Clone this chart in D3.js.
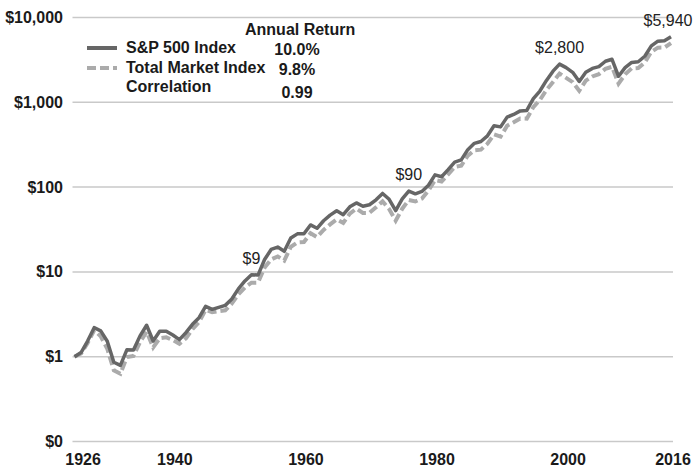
<!DOCTYPE html>
<html>
<head>
<meta charset="utf-8">
<script src="https://cdn.jsdelivr.net/npm/d3@7"></script>
<style>
  body { margin: 0; background: #fff; }
  svg { display: block; font-family: "Liberation Sans", Arial, sans-serif; }
</style>
</head>
<body>
<div id="chart"></div>
<script>
  // growth of $1, year-end values (first point = start of 1926)
  const years = d3.range(1925, 2017);
  const sp500 = [1.00,
    1.12, 1.53, 2.20, 2.02, 1.52, 0.86, 0.79, 1.21, 1.20, 1.76,
    2.35, 1.53, 2.00, 2.00, 1.80, 1.59, 1.92, 2.41, 2.88, 3.93,
    3.62, 3.82, 4.03, 4.79, 6.31, 7.82, 9.26, 9.17, 13.99, 18.40,
    19.61, 17.50, 25.09, 28.09, 28.22, 35.80, 32.68, 40.12, 46.73, 52.55,
    47.26, 58.59, 65.07, 59.53, 61.91, 70.77, 84.20, 71.85, 52.84, 72.49,
    89.80, 83.35, 88.82, 105.2, 139.3, 132.5, 160.8, 196.9, 209.3, 276.4,
    328.0, 345.1, 402.4, 529.4, 513.0, 668.8, 719.6, 792.1, 802.6, 1104,
    1358, 1811, 2328, 2818, 2562, 2257, 1758, 2263, 2509, 2632,
    3047, 3215, 2025, 2561, 2947, 3009, 3491, 4622, 5254, 5327,
    5940];
  const totalMarket = [1.00,
    1.09, 1.45, 2.05, 1.74, 1.24, 0.69, 0.63, 0.99, 1.02, 1.49,
    1.97, 1.29, 1.65, 1.69, 1.57, 1.42, 1.65, 2.11, 2.56, 3.56,
    3.34, 3.45, 3.52, 4.23, 5.45, 6.56, 7.45, 7.48, 11.24, 14.05,
    15.23, 13.61, 19.71, 22.23, 22.50, 28.57, 25.75, 31.23, 36.32, 41.55,
    37.85, 48.68, 55.64, 49.63, 49.68, 57.68, 67.72, 55.12, 40.13, 55.62,
    70.47, 67.72, 73.34, 91.01, 121.2, 116.5, 141.3, 173.2, 178.8, 235.1,
    271.8, 276.7, 325.1, 418.1, 393.0, 529.4, 581.3, 645.8, 641.9, 878.1,
    1065, 1399, 1736, 2182, 1944, 1730, 1367, 1800, 2016, 2145,
    2484, 2621, 1659, 2137, 2513, 2533, 2948, 3936, 4408, 4426,
    4984];

  const yTicks = [0.1, 1, 10, 100, 1000, 10000];
  const yTickLabels = ["$0", "$1", "$10", "$100", "$1,000", "$10,000"];
  const xTicks = [1926, 1940, 1960, 1980, 2000, 2016];

  const annotations = [
    { year: 1952, text: "$9", dx: 0 },
    { year: 1976, text: "$90", dx: 0 },
    { year: 1999, text: "$2,800", dx: 0 },
    { year: 2016, text: "$5,940", dx: -3 }
  ];

  const legendRows = [
    { name: "S&P 500 Index", value: "10.0%", style: "sp" },
    { name: "Total Market Index", value: "9.8%", style: "tm" },
    { name: "Correlation", value: "0.99", style: null }
  ];

  const width = 694, height = 467;
  const x = d3.scaleLinear().domain([1925, 2016]).range([74.5, 671]);
  const y = d3.scaleLog().domain([0.1, 10000]).range([441.5, 17.5]);

  const svg = d3.select("#chart").append("svg")
      .attr("width", width)
      .attr("height", height);

  // gridlines
  svg.append("g")
    .selectAll("line")
    .data(yTicks)
    .join("line")
      .attr("x1", 72.5)
      .attr("x2", 673)
      .attr("y1", d => y(d))
      .attr("y2", d => y(d))
      .attr("stroke", "#c9c9c9")
      .attr("stroke-width", 1.5);

  // y labels
  svg.append("g")
    .selectAll("text")
    .data(yTicks)
    .join("text")
      .attr("x", 63)
      .attr("y", d => y(d) + 5.5)
      .attr("text-anchor", "end")
      .attr("font-size", 16)
      .attr("font-weight", "bold")
      .attr("fill", "#1a1a1a")
      .text((d, i) => yTickLabels[i]);

  // x labels
  svg.append("g")
    .selectAll("text")
    .data(xTicks)
    .join("text")
      .attr("x", d => x(d) + 2)
      .attr("y", 465)
      .attr("text-anchor", "middle")
      .attr("font-size", 16)
      .attr("font-weight", "bold")
      .attr("fill", "#1a1a1a")
      .text(d => d);

  const line = d3.line()
      .x((d, i) => x(years[i]))
      .y(d => y(d));

  svg.append("path")
      .datum(totalMarket)
      .attr("d", line)
      .attr("fill", "none")
      .attr("stroke", "#ababab")
      .attr("stroke-width", 4)
      .attr("stroke-dasharray", "9,4");

  svg.append("path")
      .datum(sp500)
      .attr("d", line)
      .attr("fill", "none")
      .attr("stroke", "#666")
      .attr("stroke-width", 3.5)
      .attr("stroke-linejoin", "round");

  // value call-outs
  svg.append("g")
    .selectAll("text")
    .data(annotations)
    .join("text")
      .attr("x", d => x(d.year) + d.dx)
      .attr("y", d => y(sp500[years.indexOf(d.year)]) - 11)
      .attr("text-anchor", "middle")
      .attr("font-size", 16)
      .attr("fill", "#222")
      .text(d => d.text);

  // legend
  const legend = svg.append("g");
  legend.append("text")
      .attr("x", 245)
      .attr("y", 35)
      .attr("font-size", 16)
      .attr("font-weight", "bold")
      .attr("fill", "#1a1a1a")
      .text("Annual Return");

  const rowY = [53, 73, 92];
  const valY = [55, 75, 98];
  legendRows.forEach((r, i) => {
    if (r.style) {
      legend.append("line")
          .attr("x1", 87).attr("x2", 117)
          .attr("y1", rowY[i] - 5).attr("y2", rowY[i] - 5)
          .attr("stroke", r.style === "sp" ? "#666" : "#ababab")
          .attr("stroke-width", 4)
          .attr("stroke-dasharray", r.style === "sp" ? null : "9,4");
    }
    legend.append("text")
        .attr("x", 126)
        .attr("y", rowY[i])
        .attr("font-size", 16)
        .attr("font-weight", "bold")
        .attr("fill", "#1a1a1a")
        .text(r.name);
    legend.append("text")
        .attr("x", 297)
        .attr("y", valY[i])
        .attr("text-anchor", "middle")
        .attr("font-size", 16)
        .attr("font-weight", "bold")
        .attr("fill", "#1a1a1a")
        .text(r.value);
  });
</script>
</body>
</html>
